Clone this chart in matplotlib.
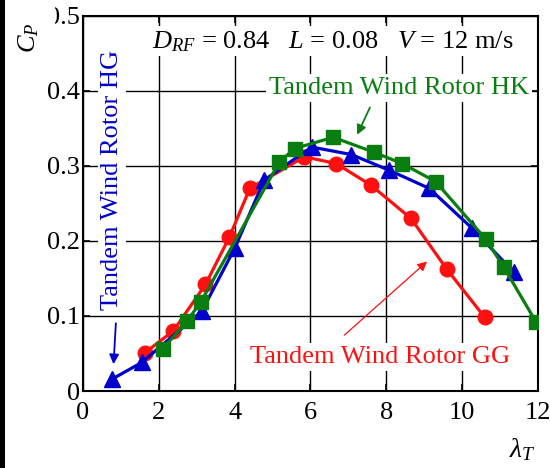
import numpy as np
import matplotlib
matplotlib.use('Agg')
import matplotlib.pyplot as plt
from matplotlib.patches import Rectangle

plt.rcParams['font.family'] = 'serif'
plt.rcParams['font.serif'] = ['Liberation Serif']
plt.rcParams['mathtext.fontset'] = 'custom'
plt.rcParams['mathtext.rm'] = 'Liberation Serif'
plt.rcParams['mathtext.it'] = 'Liberation Serif:italic'
plt.rcParams['font.size'] = 19

# tip speed ratio / power coefficient
lam_hg = [0.77, 1.55, 3.13, 4.0, 4.78, 6.03, 7.08, 8.08, 9.13, 10.26, 11.37]
cp_hg = [0.016, 0.038, 0.106, 0.19, 0.281, 0.325, 0.315, 0.294, 0.27, 0.217, 0.158]

lam_hk = [2.1, 2.74, 3.1, 5.18, 5.58, 6.6, 7.68, 8.42, 9.3, 10.63, 11.1, 11.95]
cp_hk = [0.056, 0.093, 0.118, 0.305, 0.323, 0.338, 0.318, 0.303, 0.279, 0.202, 0.165, 0.092]

lam_gg = [1.63, 2.38, 3.23, 3.86, 4.4, 5.84, 6.68, 7.6, 8.65, 9.6, 10.6]
cp_gg = [0.051, 0.08, 0.142, 0.205, 0.27, 0.312, 0.303, 0.274, 0.23, 0.162, 0.098]

fig = plt.figure(figsize=(5.5, 4.68), dpi=100)
ax = fig.add_axes([0.151, 0.1645, 0.827, 0.802])

ax.plot(lam_gg, cp_gg, color='#ff1010', lw=2.3, marker='o', ms=10.5, zorder=3)
ax.plot(lam_hg, cp_hg, color='#0000cc', lw=2.3, marker='^', ms=11, zorder=4)
ax.plot(lam_hk, cp_hk, color='#0a7d10', lw=2.3, marker='s', ms=10, zorder=5)

ax.set_xlim(0, 12)
ax.set_ylim(0, 0.5)
ax.set_xticks(np.arange(0, 13, 2))
ax.set_yticks([0, 0.1, 0.2, 0.3, 0.4, 0.5])
ax.set_yticklabels(['0', '0.1', '0.2', '0.3', '0.4', '0.5'])
ax.grid(True, color='k', lw=1.0)
ax.set_axisbelow(True)
ax.tick_params(direction='in', top=True, right=True, length=5, width=1.2)
ax.tick_params(axis='x', pad=8)
ax.tick_params(axis='y', pad=2)
for s in ax.spines.values():
    s.set_linewidth(1.5)

white = dict(facecolor='white', edgecolor='none', pad=2)

ax.text(6.6, 0.466, r'$D_{RF}$ = 0.84   $L$ = 0.08   $V$ = 12 m/s',
        ha='center', va='center', bbox=white, zorder=6)
ax.text(8.34, 0.404, 'Tandem Wind Rotor HK', color='#0a7d10', ha='center',
        va='center', bbox=white, zorder=6)
ax.text(0.77, 0.281, 'Tandem Wind Rotor HG', color='#0000cc', ha='center',
        va='center', rotation=90, bbox=white, zorder=6)
ax.text(7.83, 0.045, 'Tandem Wind Rotor GG', color='#ff1010', ha='center',
        va='center', bbox=white, zorder=6)

ax.annotate('', xy=(7.2, 0.338), xytext=(7.6, 0.381),
            arrowprops=dict(arrowstyle='-|>', color='#0a7d10', lw=1.3,
                            mutation_scale=14), zorder=7)
ax.annotate('', xy=(0.8, 0.032), xytext=(0.87, 0.094),
            arrowprops=dict(arrowstyle='-|>', color='#0000cc', lw=1.3,
                            mutation_scale=14), zorder=7)
ax.annotate('', xy=(9.13, 0.175), xytext=(6.84, 0.072),
            arrowprops=dict(arrowstyle='-|>', color='#ff1010', lw=0.9,
                            mutation_scale=14), zorder=7)

fig.text(0.052, 0.92, r'$C_P$', rotation=90, ha='center', va='center',
         bbox=dict(facecolor='white', edgecolor='none', pad=4))
fig.text(0.95, 0.04, r'$\lambda_T$', ha='center', va='center', fontsize=20)

# the picture is cropped: a black strip at the left and the "0" of 0.5 hidden
fig.patches.append(Rectangle((0, 0), 5 / 550, 1, transform=fig.transFigure,
                             facecolor='k', edgecolor='none', zorder=2))
fig.patches.append(Rectangle((40 / 550, 1 - 30 / 468), 15 / 550, 28 / 468,
                             transform=fig.transFigure, facecolor='white',
                             edgecolor='none', zorder=2))

plt.savefig('out.png', dpi=100)
